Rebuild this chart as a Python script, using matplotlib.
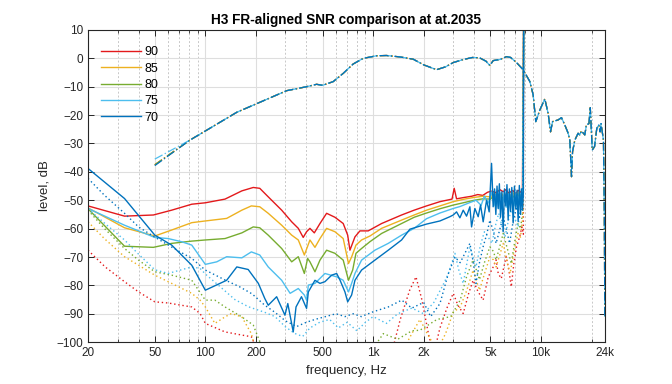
import numpy as np
import matplotlib
matplotlib.use("Agg")
import matplotlib.pyplot as plt
from matplotlib.ticker import FixedLocator, NullFormatter

plt.rcParams['font.family'] = ['Liberation Sans', 'DejaVu Sans']

levels = [90, 85, 80, 75, 70]
colors = {90: '#E3191B', 85: '#EDB120', 80: '#77AC30', 75: '#4DBEEE', 70: '#0072BD'}

# frequency response (dash-dot), shared shape, first point differs per level
fr_start = {90: -37.5, 85: -37.5, 80: -37.5, 75: -35.5, 70: -37.8}
fr_f = [50, 81, 100, 154, 200, 305, 401, 460, 500, 578, 663, 760, 873, 1048, 1200,
        1443, 1732, 2000, 2388, 2700, 2998, 3400, 3900, 4300, 4700, 4958, 5190, 5700,
        6233, 6600, 7150, 7826, 8585, 8983, 9311, 9842, 10540, 11030, 11400, 11720,
        12650, 13250, 13870, 14520, 14850, 15200, 15420, 15910, 16640, 17000, 17430,
        18240, 18640, 19310, 19670, 20210, 20850, 21500, 22100, 22500, 22800, 23560,
        23850, 24000]
fr_db = [None, -28.8, -25.6, -19.0, -16.1, -11.4, -10.0, -9.15, -9.5, -8.2, -5.3, -2.0,
         0.0, 0.9, 1.0, 0.5, -0.3, -2.3, -4.0, -3.0, -1.5, -0.5, 0.3, 0.2, -1.0, -2.5,
         -0.8, -0.4, 0.6, 0.3, -1.5, -4.0, -8.2, -12.9, -22.3, -18.2, -14.3, -19.4,
         -25.9, -22.3, -21.7, -20.9, -23.5, -26.4, -28.8, -41.7, -32.9, -28.8, -26.4,
         -27.0, -25.6, -27.0, -23.5, -23.0, -17.4, -32.3, -31.1, -24.7, -23.5, -25.9,
         -23.0, -28.8, -55.0, -91.0]

# noise relative to FR (solid)
solid = {
    90: [(20, -52.0), (33, -55.6), (49, -55.2), (63, -53.5), (83, -51.4), (100, -50.9),
         (131, -49.6), (165, -46.7), (193, -45.5), (211, -45.8), (237, -48.8), (285, -53.5),
         (327, -57.6), (358, -59.9), (383, -63.1), (401, -61.1), (420, -59.9), (446, -61.5),
         (482, -58.2), (528, -54.6), (592, -56.0), (663, -58.2), (705, -62.3), (727, -67.6),
         (779, -62.9), (834, -60.8), (934, -60.8), (1123, -58.2), (1477, -55.2), (1755, -53.5),
         (2080, -52.0), (2500, -50.5), (2950, -49.6), (3040, -45.8), (3140, -49.5), (3500, -49.0),
         (3860, -48.6), (4200, -48.0), (4500, -48.3), (4800, -47.2), (5050, -46.8), (5400, -47.3),
         (5700, -46.3), (5950, -47.0), (6200, -46.2), (6400, -47.5), (6800, -46.6), (7100, -47.8),
         (7300, -46.5), (7550, -47.2), (7750, -46.3), (7906, 30)],
    85: [(20, -52.7), (33, -59.7), (50, -62.6), (63, -60.5), (83, -57.9), (100, -57.3),
         (134, -56.4), (165, -53.5), (188, -52.0), (211, -52.3), (237, -54.6), (285, -58.8),
         (327, -62.3), (358, -64.0), (389, -69.3), (407, -66.2), (420, -64.0), (450, -66.6),
         (482, -63.5), (528, -59.9), (592, -61.1), (663, -63.5), (713, -72.3), (744, -70.0),
         (790, -65.8), (853, -64.0), (957, -62.6), (1123, -59.9), (1477, -57.0), (1755, -55.2),
         (2080, -53.5), (2500, -52.0), (3000, -50.5), (3500, -49.6), (4000, -49.0), (4500, -48.6),
         (5000, -48.8), (5300, -47.6), (5500, -48.6), (5800, -47.5), (6000, -48.8), (6300, -47.4),
         (6500, -48.6), (6800, -47.3), (7000, -48.5), (7300, -47.2), (7500, -48.4), (7800, -47.5),
         (7906, 30)],
    80: [(20, -53.0), (33, -66.2), (49, -66.6), (63, -65.2), (83, -64.4), (100, -64.0),
         (131, -63.5), (165, -61.5), (193, -59.4), (211, -59.7), (237, -62.3), (285, -67.0),
         (327, -71.7), (358, -69.9), (389, -75.8), (407, -70.5), (420, -71.7), (450, -75.2),
         (482, -71.1), (528, -67.6), (592, -68.7), (663, -71.1), (713, -78.2), (755, -74.6),
         (790, -68.7), (853, -67.0), (957, -64.6), (1123, -61.7), (1477, -58.2), (1755, -56.0),
         (2080, -54.5), (2500, -53.0), (3000, -51.7), (3500, -50.8), (4000, -50.0), (4500, -49.5),
         (5000, -49.6), (5250, -48.4), (5500, -49.8), (5750, -48.2), (6000, -49.8), (6250, -48.0),
         (6500, -49.6), (6750, -48.0), (7000, -49.6), (7250, -47.8), (7500, -49.2), (7800, -48.0),
         (7906, 30)],
    75: [(20, -52.9), (33, -58.8), (50, -63.1), (60, -63.5), (72, -64.6), (83, -65.8),
         (100, -72.6), (117, -71.7), (134, -69.9), (165, -70.3), (188, -68.2), (211, -69.3),
         (237, -73.5), (285, -78.2), (320, -82.8), (358, -81.1), (389, -83.4), (401, -85.2),
         (411, -79.9), (450, -79.3), (516, -75.8), (606, -77.0), (663, -78.2), (713, -82.3),
         (744, -79.3), (779, -75.8), (853, -71.1), (1024, -67.6), (1230, -65.2), (1477, -62.3),
         (1755, -59.9), (2080, -56.5), (2500, -54.5), (3000, -52.9), (3300, -52.2), (3700, -51.0),
         (4100, -50.0), (4400, -51.8), (4600, -48.5), (4850, -51.0), (5100, -47.0), (5250, -52.0),
         (5400, -48.0), (5600, -53.0), (5750, -47.5), (5900, -51.5), (6050, -47.0), (6200, -52.5),
         (6400, -47.8), (6550, -51.0), (6700, -46.8), (6900, -52.0), (7100, -47.5), (7300, -51.5),
         (7450, -47.0), (7600, -52.0), (7800, -48.0), (7906, 30)],
    70: [(20, -38.8), (33, -49.4), (50, -62.3), (63, -65.8), (83, -72.9), (100, -81.7),
         (134, -78.2), (154, -73.5), (180, -74.4), (207, -79.3), (226, -84.6), (237, -87.0),
         (266, -84.0), (298, -90.5), (310, -86.4), (334, -96.4), (347, -87.6), (374, -84.0),
         (401, -88.1), (411, -82.3), (450, -78.2), (482, -79.3), (516, -78.7), (566, -76.4),
         (606, -75.8), (635, -78.2), (679, -82.3), (705, -85.8), (744, -83.4), (779, -78.2),
         (853, -74.6), (1024, -71.1), (1230, -67.6), (1477, -64.0), (1655, -60.2), (2080, -58.4),
         (2500, -57.3), (2866, -55.8), (3000, -55.2), (3140, -54.1), (3287, -56.2), (3439, -53.5),
         (3602, -55.6), (3770, -52.3), (3858, -59.4), (4037, -52.9), (4224, -55.8), (4364, -51.7),
         (4524, -57.6), (4740, -50.0), (4912, -54.1), (5075, -37.0), (5188, -52.3), (5290, -46.0),
         (5383, -55.0), (5470, -45.0), (5556, -52.9), (5650, -44.2), (5741, -56.0), (5850, -47.0),
         (5950, -61.1), (6060, -46.0), (6174, -52.0), (6270, -44.5), (6372, -57.0), (6480, -46.0),
         (6585, -54.0), (6700, -45.5), (6826, -58.0), (6950, -45.0), (7082, -53.0), (7200, -46.5),
         (7310, -57.5), (7430, -44.8), (7554, -55.0), (7660, -46.0), (7764, -53.5), (7850, -47.0),
         (7906, 30)],
}

# second noise estimate (dotted)
dotted = {
    90: [(20, -67.6), (25.3, -73.5), (33, -78.7), (40, -82.3), (50, -85.8), (60, -86.2),
         (72, -87.0), (83, -87.6), (93, -89.9), (100, -93.4), (131, -96.4), (165, -97.5),
         (188, -98.1), (205, -103), (1300, -103), (1450, -92), (1650, -81.7), (1800, -77),
         (1950, -85), (2150, -98), (2300, -104), (2500, -95), (2750, -88), (3000, -82.8),
         (3200, -87), (3440, -89.9), (3700, -83), (3940, -78.2), (4200, -82), (4520, -85.2),
         (4850, -77), (5190, -73.5), (5400, -71), (5560, -75.8), (5800, -77.6), (6200, -69.9),
         (6450, -75), (6650, -80.5), (6900, -72), (7150, -66.4), (7450, -63), (7700, -59.4),
         (7850, -62), (7906, 30)],
    85: [(20, -57.6), (25, -63.5), (33, -69.9), (40, -72.9), (50, -76.4), (63, -79.3),
         (83, -82.8), (93, -85.2), (100, -87.6), (114, -93.4), (131, -91.1), (143, -89.9),
         (165, -91.1), (188, -97), (200, -103), (1500, -103), (1700, -97), (1900, -92),
         (2100, -97), (2400, -103), (2700, -97), (3000, -89.5), (3300, -87.6), (3600, -82),
         (3940, -74.6), (4300, -81.7), (4600, -76), (4960, -69.9), (5200, -71), (5400, -73.5),
         (5700, -69), (5950, -65.2), (6300, -72), (6550, -75.8), (6900, -68), (7300, -61.7),
         (7550, -63), (7800, -55.8), (7906, 30)],
    80: [(20, -53.5), (25, -59.9), (33, -67), (40, -71.1), (50, -75.2), (63, -76.4),
         (83, -78.2), (100, -85.2), (114, -85.2), (131, -87.6), (165, -91.1), (193, -94),
         (215, -101), (230, -104), (950, -104), (1150, -97), (1400, -99), (1700, -96),
         (1900, -95.8), (2400, -92), (2900, -91), (3300, -85.2), (3600, -77), (3940, -71),
         (4300, -78), (4600, -72), (4960, -66.4), (5200, -68), (5400, -71), (5700, -66),
         (5950, -61.7), (6300, -67), (6650, -72.3), (7000, -64), (7300, -58.2), (7550, -60),
         (7800, -53.5), (7906, 30)],
    75: [(20, -53), (25, -58), (33, -64), (40, -69), (50, -74.5), (60, -75.8), (72, -74.5),
         (83, -73.5), (93, -74), (100, -76), (120, -80), (150, -85), (180, -87.5), (226, -89.5),
         (260, -91), (300, -94.6), (340, -96.9), (380, -98), (420, -95), (480, -93), (550, -92),
         (620, -95), (700, -93), (800, -96), (900, -93), (1000, -91), (1200, -93.4), (1400, -90),
         (1700, -88), (2000, -90), (2300, -86), (2600, -80), (2800, -76), (3070, -68.7),
         (3250, -75), (3440, -79.3), (3770, -66.4), (4100, -73.5), (4350, -66), (4600, -61.1),
         (4850, -63), (5100, -65.2), (5350, -59), (5600, -54.6), (5850, -59), (6100, -63),
         (6400, -57), (6650, -53.5), (6950, -56), (7300, -59.4), (7550, -53), (7800, -47.8),
         (7906, 30)],
    70: [(20, -42.3), (25, -48.2), (33, -54.6), (40, -59.4), (50, -63), (63, -66.5),
         (83, -70.5), (100, -74.6), (130, -78), (160, -80.5), (190, -83), (226, -87),
         (260, -89.5), (300, -92.5), (350, -94.5), (400, -93), (450, -92), (520, -91),
         (600, -90), (680, -91), (760, -90), (850, -91), (1000, -89.3), (1230, -87.6),
         (1480, -85.2), (1700, -88), (2000, -86), (2200, -91), (2500, -86.4), (2800, -76),
         (3070, -70), (3300, -72), (3500, -69), (3770, -65.2), (3950, -72), (4100, -79.3),
         (4300, -72), (4520, -66.4), (4750, -62), (4960, -57), (5200, -61), (5400, -65.2),
         (5700, -60), (5950, -55.8), (6200, -60), (6500, -65.2), (6800, -58), (7150, -52.3),
         (7450, -56), (7800, -50), (7906, 30)],
}

xticks = [20, 50, 100, 200, 500, 1000, 2000, 5000, 10000, 24000]
xticklabels = ['20', '50', '100', '200', '500', '1k', '2k', '5k', '10k', '24k']
yticks = list(range(-100, 11, 10))

fig = plt.figure(figsize=(6.72, 3.84), dpi=100)
ax = fig.add_axes([0.131, 0.109, 0.769, 0.813])

handles = []
for lv in levels:
    c = colors[lv]
    ydb = [fr_start[lv]] + fr_db[1:]
    ax.plot(fr_f, ydb, color=c, lw=0.9, ls='-.', dashes=(7, 2, 1, 2))
    f, d = zip(*solid[lv])
    h, = ax.plot(f, d, color=c, lw=1.0, ls='-')
    handles.append(h)
    f, d = zip(*dotted[lv])
    ax.plot(f, d, color=c, lw=1.0, ls=(0, (1, 2)))

ax.set_xscale('log')
ax.set_xlim(20, 24000)
ax.set_ylim(-100, 10)

ax.xaxis.set_major_locator(FixedLocator(xticks))
ax.set_xticklabels(xticklabels)
minor = [m * 10 ** e for e in range(1, 5) for m in range(2, 10)]
minor = [v for v in minor if 20 < v < 24000 and v not in xticks]
ax.xaxis.set_minor_locator(FixedLocator(minor))
ax.xaxis.set_minor_formatter(NullFormatter())
ax.set_yticks(yticks)

ax.grid(True, which='major', color='#dedede', lw=0.8, ls='-')
ax.grid(True, which='minor', axis='x', color='#c8c8c8', lw=0.7, ls=(0, (2, 2)))
ax.set_axisbelow(True)

ax.tick_params(which='both', direction='in', top=True, right=True, colors='#262626',
               labelsize=8.5, labelcolor='#262626')
ax.tick_params(which='major', length=4, width=0.7)
ax.tick_params(which='minor', length=2, width=0.6)
for s in ax.spines.values():
    s.set_color('#262626')
    s.set_linewidth(0.8)

ax.set_xlabel('frequency, Hz', fontsize=9.5, color='#262626')
ax.set_ylabel('level, dB', fontsize=9.5, color='#262626')
ax.set_title('H3 FR-aligned SNR comparison at at.2035', fontsize=9.8, fontweight='bold',
             color='black', pad=4)

leg = ax.legend(handles, [str(v) for v in levels], loc='upper left',
                bbox_to_anchor=(0.01, 0.972), frameon=False, fontsize=9,
                handlelength=3.2, handletextpad=0.3, labelspacing=0.35,
                borderaxespad=0.2)

fig.savefig('out.png', dpi=100)
